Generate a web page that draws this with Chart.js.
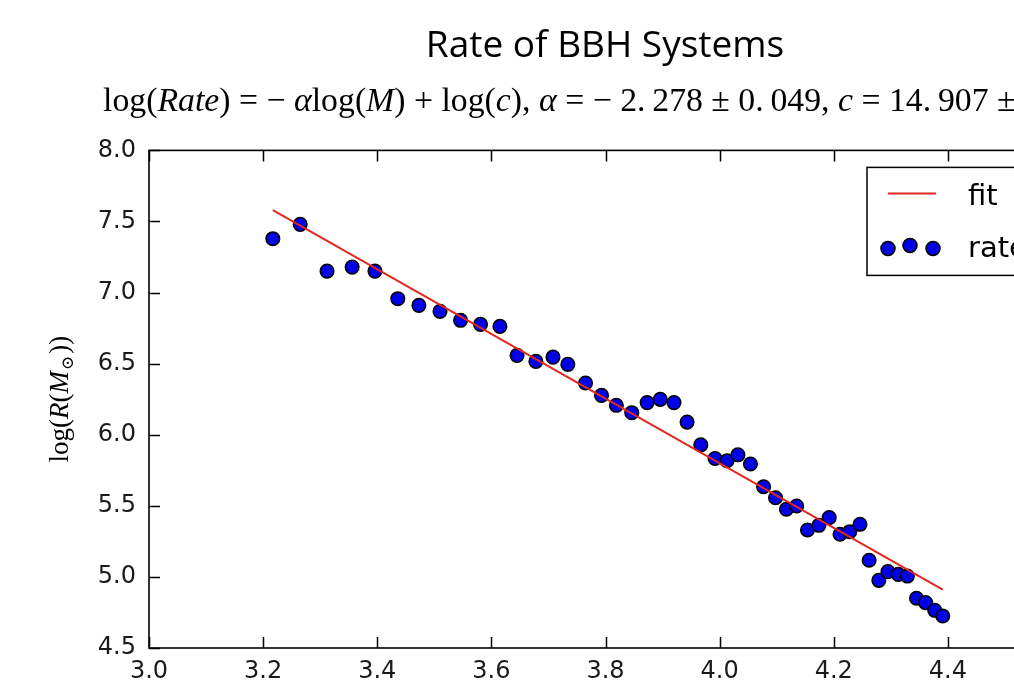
<!DOCTYPE html>
<html>
<head>
<meta charset="utf-8">
<title>Rate of BBH Systems</title>
<script src="https://cdn.jsdelivr.net/npm/chart.js@4.4.1/dist/chart.umd.min.js"></script>
<style>
  html, body { margin: 0; padding: 0; background: #fff; overflow: hidden; }
  #wrap { width: 1014px; height: 694px; overflow: hidden; position: relative; }
  canvas { position: absolute; left: 0; top: 0; }
</style>
</head>
<body>
<div id="wrap"><canvas id="myChart" width="1210" height="694"></canvas></div>
<script>
// log(M) and log(Rate)
const logMass = [3.217, 3.265, 3.312, 3.356, 3.396, 3.436, 3.473, 3.510, 3.546, 3.581,
  3.615, 3.645, 3.678, 3.708, 3.734, 3.765, 3.793, 3.819, 3.846, 3.873,
  3.896, 3.920, 3.943, 3.967, 3.992, 4.013, 4.032, 4.054, 4.077, 4.098,
  4.117, 4.135, 4.154, 4.174, 4.192, 4.211, 4.228, 4.246, 4.262, 4.279,
  4.295, 4.313, 4.329, 4.345, 4.361, 4.377, 4.391];
const logRate = [7.379, 7.480, 7.151, 7.179, 7.151, 6.957, 6.910, 6.868, 6.805, 6.776,
  6.762, 6.558, 6.516, 6.546, 6.495, 6.364, 6.277, 6.207, 6.155, 6.226,
  6.249, 6.226, 6.089, 5.929, 5.833, 5.817, 5.859, 5.794, 5.634, 5.557,
  5.476, 5.499, 5.330, 5.363, 5.417, 5.300, 5.318, 5.370, 5.117, 4.976,
  5.037, 5.018, 5.006, 4.850, 4.819, 4.765, 4.725];

// fit line end points
const fitMass = [3.217, 4.391];
const fitRate = [7.58, 4.91];

const xTickValues = [3.0, 3.2, 3.4, 3.6, 3.8, 4.0, 4.2, 4.4, 4.6];
const yTickValues = [4.5, 5.0, 5.5, 6.0, 6.5, 7.0, 7.5, 8.0];

const chartTitle = 'Rate of BBH Systems';
const seriesNames = ['fit', 'rate'];

const formulaRuns = [
  ['log(', 0], ['Rate', 1], [') = ', 0], ['\u2212 ', 0], ['\u03b1', 1], ['log(', 0], ['M', 1],
  [') + log(', 0], ['c', 1], ['), ', 0], ['\u03b1', 1], [' = \u2212 2.\u2009278 \u00b1 0.\u2009049, ', 0],
  ['c', 1], [' = 14.\u2009907 ', 0], ['\u00b1', 0]
];

function drawRuns(ctx, runs, size, family) {
  let cx = 0;
  runs.forEach(r => {
    ctx.font = (r[1] ? 'italic ' : '') + size + 'px ' + family;
    ctx.fillText(r[0], cx, 0);
    cx += ctx.measureText(r[0]).width;
  });
  return cx;
}
function runsWidth(ctx, runs, size, family) {
  let w = 0;
  runs.forEach(r => {
    ctx.font = (r[1] ? 'italic ' : '') + size + 'px ' + family;
    w += ctx.measureText(r[0]).width;
  });
  return w;
}

const decorations = {
  id: 'decorations',
  afterDatasetsDraw(chart) {
    const ctx = chart.ctx;
    const a = chart.chartArea;
    const xs = chart.scales.x, ys = chart.scales.y;
    ctx.save();
    ctx.strokeStyle = '#000';
    ctx.lineWidth = 1.6;
    ctx.strokeRect(a.left, a.top, a.right - a.left, a.bottom - a.top);
    // ticks pointing into the plot, on every side
    ctx.lineWidth = 1.5;
    xTickValues.forEach(v => {
      const px = Math.round(xs.getPixelForValue(v)) + 0.5;
      ctx.beginPath();
      ctx.moveTo(px, a.bottom); ctx.lineTo(px, a.bottom - 11);
      ctx.moveTo(px, a.top); ctx.lineTo(px, a.top + 11);
      ctx.stroke();
    });
    yTickValues.forEach(v => {
      const py = Math.round(ys.getPixelForValue(v)) + 0.5;
      ctx.beginPath();
      ctx.moveTo(a.left, py); ctx.lineTo(a.left + 11, py);
      ctx.moveTo(a.right, py); ctx.lineTo(a.right - 11, py);
      ctx.stroke();
    });
    ctx.restore();
  },
  afterDraw(chart) {
    const ctx = chart.ctx;
    const a = chart.chartArea;
    const ds = chart.data.datasets;
    ctx.save();
    ctx.fillStyle = '#000';
    ctx.textBaseline = 'alphabetic';

    // formula under the title
    const fam = '"Liberation Serif", "DejaVu Serif", serif';
    const body = formulaRuns.slice(0, -1);
    const natural = runsWidth(ctx, body, 34, fam);
    ctx.save();
    ctx.translate(103, 111);
    ctx.scale(894 / natural, 1);
    drawRuns(ctx, formulaRuns, 34, fam);
    ctx.restore();

    // y axis title log(R(M_sun))
    ctx.save();
    ctx.translate(68, (a.top + a.bottom) / 2);
    ctx.rotate(-Math.PI / 2);
    const lab1 = [['log(', 0], ['R', 1], ['(', 0], ['M', 1]];
    const lab2 = [['))', 0]];
    const sz = 27;
    ctx.font = '17px ' + fam;
    const sunW = ctx.measureText('\u2299').width;
    const total = runsWidth(ctx, lab1, sz, fam) + sunW + 3 + runsWidth(ctx, lab2, sz, fam);
    ctx.translate(-total / 2, 0);
    let w = drawRuns(ctx, lab1, sz, fam);
    ctx.font = '17px ' + fam;
    ctx.fillText('\u2299', w + 1, 5);
    w += sunW + 3;
    ctx.translate(w, 0);
    drawRuns(ctx, lab2, sz, fam);
    ctx.restore();

    // legend box
    const lx = a.left + 718, ly = a.top + 17;
    ctx.fillStyle = '#fff';
    ctx.fillRect(lx, ly, 260, 108);
    ctx.strokeStyle = '#000';
    ctx.lineWidth = 1.5;
    ctx.strokeRect(lx, ly, 260, 108);
    ctx.strokeStyle = ds[0].borderColor;
    ctx.lineWidth = ds[0].borderWidth;
    ctx.beginPath();
    ctx.moveTo(lx + 21, ly + 26); ctx.lineTo(lx + 69, ly + 26);
    ctx.stroke();
    const dots = [[21, 81], [43, 78], [66, 81]];
    dots.forEach(d => {
      ctx.beginPath();
      ctx.arc(lx + d[0], ly + d[1], 7, 0, Math.PI * 2);
      ctx.fillStyle = ds[1].backgroundColor;
      ctx.fill();
      ctx.lineWidth = ds[1].borderWidth;
      ctx.strokeStyle = ds[1].borderColor;
      ctx.stroke();
    });
    ctx.fillStyle = '#000';
    ctx.font = '29px "DejaVu Sans"';
    ctx.fillText(ds[0].label, lx + 101, ly + 38);
    ctx.fillText(ds[1].label, lx + 101, ly + 90);
    ctx.restore();
  }
};

const ctx = document.getElementById('myChart');

new Chart(ctx, {
  type: 'scatter',
  data: {
    datasets: [{
      label: seriesNames[0],
      type: 'line',
      data: fitMass.map((m, i) => ({ x: m, y: fitRate[i] })),
      borderColor: '#e0281e',
      borderWidth: 2,
      pointRadius: 0,
      fill: false,
      order: 0
    }, {
      label: seriesNames[1],
      data: logMass.map((m, i) => ({ x: m, y: logRate[i] })),
      backgroundColor: '#0000e6',
      borderColor: '#000',
      borderWidth: 1.5,
      pointRadius: 6.8,
      order: 1
    }]
  },
  options: {
    responsive: false,
    animation: false,
    devicePixelRatio: 1,
    layout: { padding: 0 },
    plugins: {
      legend: { display: false },
      tooltip: { enabled: false },
      title: {
        display: true,
        text: chartTitle,
        color: '#000',
        font: { family: '"Open Sans"', size: 37, weight: 'normal' },
        padding: { top: 24, bottom: 82 }
      }
    },
    scales: {
      x: {
        type: 'linear',
        min: 3.0,
        max: 4.6,
        afterBuildTicks: s => { s.ticks = xTickValues.map(v => ({ value: v })); },
        afterFit: s => { s.height = 46; },
        grid: { display: false },
        border: { display: false },
        ticks: {
          autoSkip: false,
          maxRotation: 0,
          padding: 1,
          color: '#1a1a1a',
          font: { family: '"DejaVu Sans"', size: 24 },
          callback: v => v.toFixed(1)
        }
      },
      y: {
        min: 4.5,
        max: 8.0,
        afterBuildTicks: s => { s.ticks = yTickValues.map(v => ({ value: v })); },
        afterFit: s => { s.width = 149; },
        grid: { display: false },
        border: { display: false },
        ticks: {
          padding: 5,
          color: '#1a1a1a',
          font: { family: '"DejaVu Sans"', size: 24 },
          callback: v => v.toFixed(1)
        }
      },
      // empty right-hand strip so the plot stops at x = 4.6 while the title stays centred
      yPad: {
        position: 'right',
        display: true,
        afterFit: s => { s.width = 148; },
        grid: { display: false },
        border: { display: false },
        ticks: { display: false }
      }
    }
  },
  plugins: [decorations]
});
</script>
</body>
</html>
